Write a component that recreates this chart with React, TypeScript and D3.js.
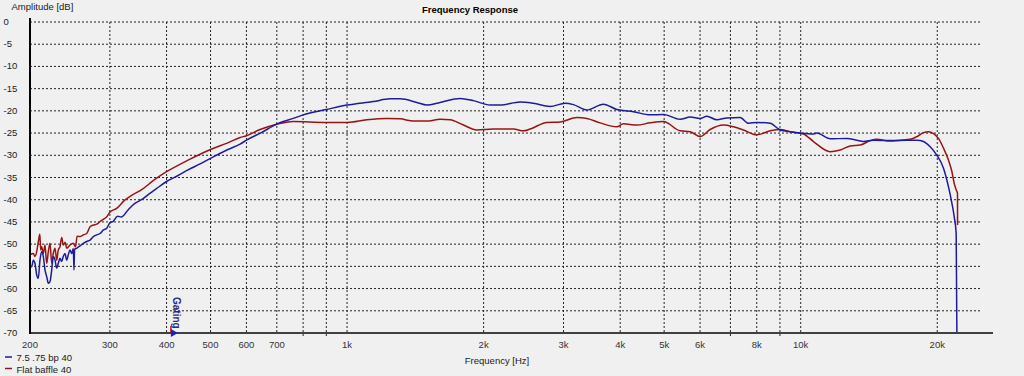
import React from "react";
import * as d3 from "d3";

const seriesNames = ["7.5 .75 bp 40", "Flat baffle 40"];
const seriesColors = ["#1c1c9c", "#981414"];

// [frequency Hz, amplitude dB]
const bluePts: [number, number][] = [
  [200,-55.1],[201.7,-55.1],[203.4,-53.6],[205.1,-54.3],[206.9,-56.9],[208.6,-57.7],[210.4,-53.6],[212.2,-51.7],[214,-52.8],[215.8,-55.8],[217.7,-57.3],[219.5,-58.8],[221.4,-58.4],[223.3,-55.8],[225.1,-52.8],[227.1,-53.6],[229,-55.4],[230.9,-54.3],[232.9,-53.2],[234.9,-53.9],[236.8,-52.8],[238.9,-52.1],[241,-53.6],[242.9,-52.4],[245,-51.3],[247.2,-52.1],[249.2,-51.0],[250,-55.8],[250.8,-51.2],[253.5,-50.9],[257.8,-50.4],[262.2,-49.8],[266.7,-49.4],[271.3,-49.1],[275.9,-48.3],[280.7,-47.9],[285.5,-47.6],[290.3,-46.8],[295.4,-46.4],[300,-45.2],[305,-44.9],[312,-43.7],[318,-43.9],[329,-42.3],[340,-40.9],[352,-40.0],[364,-38.9],[380,-37.5],[400,-35.9],[423,-34.6],[446,-33.3],[473,-32.0],[500,-30.7],[546,-28.7],[581,-27.5],[600,-26.6],[647,-24.9],[700,-23.0],[761,-21.7],[800,-20.9],[900,-19.7],[1000,-18.7],[1143,-17.9],[1244,-17.3],[1309,-17.3],[1425,-18.1],[1499,-18.7],[1604,-18.1],[1775,-17.2],[1899,-17.7],[2067,-18.7],[2175,-18.7],[2407,-18.0],[2575,-18.3],[2803,-19.0],[3025,-18.3],[3155,-18.6],[3377,-19.8],[3674,-18.5],[3932,-19.7],[4278,-20.2],[4657,-20.9],[4982,-20.8],[5423,-21.9],[5706,-21.4],[6003,-21.7],[6210,-21.2],[6534,-22.0],[6875,-21.6],[7354,-21.5],[7670,-22.8],[8000,-22.6],[8565,-22.8],[9010,-24.3],[9478,-24.7],[10000,-25.0],[10670,-25.2],[10855,-25.0],[11614,-26.3],[12642,-26.2],[13298,-26.6],[13754,-26.9],[14469,-26.6],[15749,-26.7],[17143,-26.6],[18036,-26.6],[18650,-26.9],[19295,-28.1],[19963,-30.0],[20643,-32.9],[21174,-37.1],[21545,-40.8],[21794,-43.8],[22016,-47.6],[22094,-70]
];

const redPts: [number, number][] = [
  [200,-52.4],[203.4,-52.1],[205.1,-52.8],[206.9,-51.7],[208.6,-49.5],[210.2,-47.8],[211.2,-51.3],[212.2,-50.6],[214,-52.1],[215.8,-50.2],[217.7,-54.3],[219.5,-51.7],[221.4,-49.8],[223.3,-54.3],[225.1,-52.1],[227.1,-50.9],[229,-53.6],[230.9,-51.3],[232.9,-50.6],[234.9,-48.5],[236.8,-50.2],[239,-49.6],[241,-50.9],[245,-50.2],[249.2,-49.8],[252,-50.6],[254,-48.2],[257.8,-48.3],[262.2,-47.9],[266.7,-47.6],[271.3,-46.1],[275.9,-45.7],[280.7,-45.5],[285.5,-44.9],[290.3,-44.4],[295,-43.9],[300,-42.8],[310,-42.0],[323.5,-40.1],[335,-39.0],[352,-37.8],[375,-35.6],[400,-33.7],[446,-31.1],[500,-28.7],[546,-27.2],[581,-26.0],[600,-25.6],[643,-24.2],[700,-23.0],[761,-22.4],[900,-22.6],[1000,-22.6],[1105,-22.0],[1223,-21.7],[1309,-21.8],[1400,-22.3],[1499,-22.3],[1604,-21.9],[1687,-22.0],[1805,-23.2],[1932,-24.3],[2102,-24.1],[2327,-24.1],[2448,-24.5],[2532,-24.1],[2756,-22.6],[2949,-22.5],[3210,-21.5],[3377,-21.7],[3613,-22.7],[3932,-23.6],[4067,-22.9],[4352,-23.2],[4657,-22.7],[4982,-22.4],[5423,-24.5],[5706,-24.7],[6003,-25.8],[6315,-24.2],[6757,-23.2],[7108,-23.6],[7478,-24.3],[8000,-25.4],[8565,-24.5],[9010,-24.2],[9478,-24.7],[10140,-25.2],[10670,-26.9],[11614,-29.2],[12218,-28.8],[12853,-27.9],[13524,-27.7],[14229,-26.7],[14722,-26.4],[15749,-26.8],[16570,-26.6],[17433,-26.4],[18036,-25.8],[18650,-24.9],[19129,-24.7],[19621,-25.1],[20126,-26.2],[20643,-28.4],[21174,-31.1],[21545,-33.7],[21794,-36.3],[22016,-37.8],[22163,-38.6],[22170,-45.7]
];

const xTickValues = [200, 300, 400, 500, 600, 700, 1000, 2000, 3000, 4000, 5000, 6000, 8000, 10000, 20000];
const xTickLabels = ["200", "300", "400", "500", "600", "700", "1k", "2k", "3k", "4k", "5k", "6k", "8k", "10k", "20k"];
const xMinorTicks = [800, 900, 7000, 9000];
const yTickValues = [0, -5, -10, -15, -20, -25, -30, -35, -40, -45, -50, -55, -60, -65, -70];
const gatingFreq = 411;

const W = 1024, H = 376;
const left = 30, right = 993, gridRight = 981, top = 22, bottom = 333;
const FONT = "'Liberation Sans', Arial, sans-serif";

export default function App() {
  const x = d3.scaleLog().domain([200, 26540]).range([left, right]);
  const y = d3.scaleLinear().domain([-70, 0]).range([bottom, top]);
  const line = d3
    .line<[number, number]>()
    .x((d) => x(d[0]))
    .y((d) => y(d[1]))
    .curve(d3.curveMonotoneX);

  const gx = x(gatingFreq);
  const series = [redPts, bluePts];
  const colors = [seriesColors[1], seriesColors[0]];

  return (
    <div style={{ position: "absolute", left: 0, top: 0 }}>
      <svg width={W} height={H} style={{ display: "block" }} fontFamily={FONT}>
        <rect x={0} y={0} width={W} height={H} fill="#f0f0f0" />
        <defs>
          <clipPath id="plotclip">
            <rect x={left} y={top - 2} width={right - left} height={bottom - top + 2} />
          </clipPath>
        </defs>
        {/* horizontal grid */}
        {yTickValues.filter((v) => v > -70).map((v) => (
          <line key={"h" + v} x1={left} x2={gridRight} y1={y(v)} y2={y(v)} stroke="#222" strokeWidth={1} strokeDasharray="2,2" />
        ))}
        {/* vertical grid */}
        {xTickValues.filter((v) => v > 200).map((v) => (
          <line key={"v" + v} x1={x(v)} x2={x(v)} y1={top} y2={bottom} stroke="#222" strokeWidth={1} strokeDasharray="2,2" />
        ))}
        {xMinorTicks.map((v) => (
          <line key={"m" + v} x1={x(v)} x2={x(v)} y1={top} y2={bottom + 5} stroke="#222" strokeWidth={1} strokeDasharray="2,2" />
        ))}
        {/* curves */}
        <g clipPath="url(#plotclip)">
          {series.map((s, i) => (
            <path key={i} d={line(s) || ""} fill="none" stroke={colors[i]} strokeWidth={1.5} strokeLinejoin="round" />
          ))}
        </g>
        {/* axes */}
        <line x1={left} x2={right} y1={bottom} y2={bottom} stroke="#404040" strokeWidth={2} />
        <line x1={left} x2={left} y1={18} y2={bottom + 1} stroke="#000" strokeWidth={2} />
        {/* gating marker */}
        <line x1={gx - 1} x2={gx - 1} y1={326} y2={333} stroke="#b02020" strokeWidth={1.5} />
        <path d={`M${gx - 1},${329} L${gx - 1},${337} L${gx + 6},${333} Z`} fill="#2020b0" />
        <text transform={`translate(${gx + 1.5},297) rotate(90)`} fontSize={10} fontWeight="bold" fill="#2a2a80">Gating</text>
        {/* y labels */}
        {yTickValues.map((v) => (
          <text key={"yl" + v} x={3.5} y={y(v) + 3} fontSize={9.5} fill="#1a1a1a">{v}</text>
        ))}
        {/* x labels */}
        {xTickValues.map((v, i) => (
          <text key={"xl" + v} x={x(v)} y={347.5} fontSize={9.5} fill="#333" textAnchor="middle">{xTickLabels[i]}</text>
        ))}
        <text x={11.5} y={9.5} fontSize={9.5} fill="#1a1a1a">Amplitude [dB]</text>
        <text x={470} y={12.5} fontSize={9.5} fontWeight="bold" fill="#000" textAnchor="middle">Frequency Response</text>
        <text x={497} y={364} fontSize={9.5} fill="#1a1a1a" textAnchor="middle">Frequency [Hz]</text>
        {/* legend */}
        {seriesNames.map((n, i) => (
          <g key={n}>
            <line x1={5} x2={12} y1={357 + i * 11.5} y2={357 + i * 11.5} stroke={seriesColors[i]} strokeWidth={1.5} />
            <text x={16.5} y={361 + i * 11.5} fontSize={9.5} fill="#1a1a1a">{n}</text>
          </g>
        ))}
      </svg>
    </div>
  );
}
